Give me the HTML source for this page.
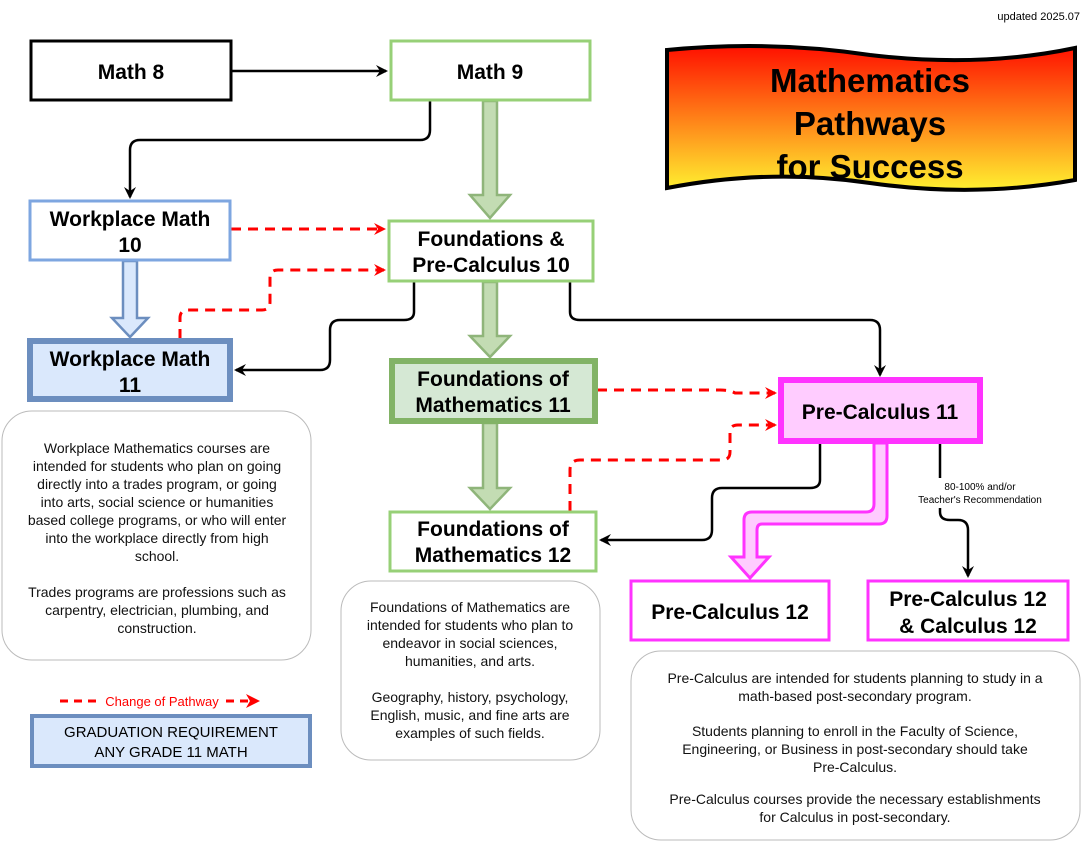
<!DOCTYPE html>
<html><head><meta charset="utf-8"><style>
body{margin:0;background:#fff;}
svg{display:block;font-family:"Comic Sans MS","Liberation Sans",sans-serif;}
.t{font-weight:bold;font-size:21px;fill:#000;text-anchor:middle;}
.s{font-size:14px;fill:#111;text-anchor:middle;}
</style></head><body>
<svg width="1091" height="841" viewBox="0 0 1091 841" xmlns="http://www.w3.org/2000/svg">
<defs>
<linearGradient id="g" x1="0" y1="0" x2="0" y2="1"><stop offset="0" stop-color="#ff1000"/><stop offset="1" stop-color="#fff030"/></linearGradient>
<marker id="ab" markerWidth="12" markerHeight="12" refX="10" refY="6" orient="auto" markerUnits="userSpaceOnUse"><path d="M0,0 L12,6 L0,12 L4,6 Z" fill="#000"/></marker>
<marker id="ar" markerWidth="12" markerHeight="12" refX="10" refY="6" orient="auto" markerUnits="userSpaceOnUse"><path d="M0,0 L12,6 L0,12 L4,6 Z" fill="#f00"/></marker>
</defs>
<text x="1080" y="20" font-size="11" text-anchor="end" font-family="Liberation Sans">updated 2025.07</text>

<!-- banner -->
<path d="M667,50 Q770,40 870,55 Q980,68 1075,48 L1075,180 Q975,198 870,183 Q770,168 667,188 Z" fill="url(#g)" stroke="#000" stroke-width="4"/>
<text class="t" x="870" y="92" style="font-size:33px">Mathematics</text>
<text class="t" x="870" y="135" style="font-size:33px">Pathways</text>
<text class="t" x="870" y="178" style="font-size:33px">for Success</text>

<!-- connectors -->
<path d="M232,71 L386,71" stroke="#000" stroke-width="2.5" fill="none" marker-end="url(#ab)"/>
<path d="M430,101 L430,130 Q430,140 420,140 L140,140 Q130,140 130,150 L130,197" stroke="#000" stroke-width="2.5" fill="none" marker-end="url(#ab)"/>
<path d="M231,229 L384,229" stroke="#f00" stroke-width="3" stroke-dasharray="10,7" fill="none" marker-end="url(#ar)"/>
<path d="M180,339 L180,318 Q180,310 188,310 L262,310 Q270,310 270,302 L270,278 Q270,270 278,270 L384,270" stroke="#f00" stroke-width="3" stroke-dasharray="10,7" fill="none" marker-end="url(#ar)"/>
<path d="M414,282 L414,312 Q414,320 404,320 L340,320 Q330,320 330,330 L330,360 Q330,370 320,370 L236,370" stroke="#000" stroke-width="2.5" fill="none" marker-end="url(#ab)"/>
<path d="M570,282 L570,312 Q570,320 580,320 L870,320 Q880,320 880,330 L880,375" stroke="#000" stroke-width="2.5" fill="none" marker-end="url(#ab)"/>
<path d="M597,390 L720,390 Q730,390 735,393 L775,393" stroke="#f00" stroke-width="3" stroke-dasharray="10,7" fill="none" marker-end="url(#ar)"/>
<path d="M570,511 L570,470 Q570,460 580,460 L722,460 Q730,460 730,452 L730,432 Q730,425 738,425 L775,425" stroke="#f00" stroke-width="3" stroke-dasharray="10,7" fill="none" marker-end="url(#ar)"/>
<path d="M820,443 L820,480 Q820,488 810,488 L722,488 Q712,488 712,498 L712,530 Q712,540 702,540 L601,540" stroke="#000" stroke-width="2.5" fill="none" marker-end="url(#ab)"/>
<path d="M940,443 L940,478 M940,508 L940,512 Q940,520 950,520 L958,520 Q968,520 968,530 L968,576" stroke="#000" stroke-width="2.5" fill="none" marker-end="url(#ab)"/>
<text x="980" y="490" font-size="10" text-anchor="middle">80-100% and/or</text>
<text x="980" y="503" font-size="10" text-anchor="middle">Teacher's Recommendation</text>

<!-- block arrows -->
<path d="M483,101 L497,101 L497,195 L510,195 L490,218 L470,195 L483,195 Z" fill="#c3dcb3" stroke="#8fb57a" stroke-width="2.5"/>
<path d="M483,282 L497,282 L497,336 L510,336 L490,357 L470,336 L483,336 Z" fill="#c3dcb3" stroke="#8fb57a" stroke-width="2.5"/>
<path d="M483,423 L497,423 L497,488 L510,488 L490,509 L470,488 L483,488 Z" fill="#c3dcb3" stroke="#8fb57a" stroke-width="2.5"/>
<path d="M123,261 L137,261 L137,318 L148,318 L130,337 L112,318 L123,318 Z" fill="#dae8fc" stroke="#6c8ebf" stroke-width="2.5"/>
<path d="M874,443 L887,443 L887,516 Q887,524 879,524 L762,524 Q757,524 757,530 L757,557 L769,557 L750,578 L731,557 L744,557 L744,520 Q744,512 752,512 L866,512 Q874,512 874,504 Z" fill="#ffccff" stroke="#ff33ff" stroke-width="3"/>

<!-- nodes -->
<rect x="31" y="41" width="200" height="59" fill="#fff" stroke="#000" stroke-width="3"/>
<text class="t" x="131" y="79">Math 8</text>
<rect x="391" y="41" width="199" height="59" fill="#fff" stroke="#97d077" stroke-width="3"/>
<text class="t" x="490" y="79">Math 9</text>
<rect x="30" y="201" width="200" height="59" fill="#fff" stroke="#7ea6e0" stroke-width="3"/>
<text class="t" x="130" y="226">Workplace Math</text>
<text class="t" x="130" y="252">10</text>
<rect x="389" y="221" width="204" height="60" fill="#fff" stroke="#97d077" stroke-width="3"/>
<text class="t" x="491" y="246">Foundations &amp;</text>
<text class="t" x="491" y="272">Pre-Calculus 10</text>
<rect x="30" y="341" width="200" height="58" fill="#dae8fc" stroke="#6c8ebf" stroke-width="6"/>
<text class="t" x="130" y="366">Workplace Math</text>
<text class="t" x="130" y="392">11</text>
<rect x="392" y="361" width="203" height="60" fill="#d5e8d4" stroke="#82b366" stroke-width="6"/>
<text class="t" x="493" y="386">Foundations of</text>
<text class="t" x="493" y="412">Mathematics 11</text>
<rect x="781" y="380" width="199" height="61" fill="#ffccff" stroke="#ff33ff" stroke-width="6"/>
<text class="t" x="880" y="419">Pre-Calculus 11</text>
<rect x="390" y="512" width="206" height="59" fill="#fff" stroke="#97d077" stroke-width="3"/>
<text class="t" x="493" y="536">Foundations of</text>
<text class="t" x="493" y="562">Mathematics 12</text>
<rect x="631" y="581" width="198" height="59" fill="#fff" stroke="#ff33ff" stroke-width="3"/>
<text class="t" x="730" y="619">Pre-Calculus 12</text>
<rect x="868" y="581" width="200" height="59" fill="#fff" stroke="#ff33ff" stroke-width="3"/>
<text class="t" x="968" y="606">Pre-Calculus 12</text>
<text class="t" x="968" y="633">&amp; Calculus 12</text>

<!-- text boxes -->
<rect x="2" y="411" width="309" height="249" rx="30" fill="#fff" stroke="#bbb" stroke-width="1"/>
<g class="s">
<text x="157" y="453">Workplace Mathematics courses are</text>
<text x="157" y="471">intended for students who plan on going</text>
<text x="157" y="489">directly into a trades program, or going</text>
<text x="157" y="507">into arts, social science or humanities</text>
<text x="157" y="525">based college programs, or who will enter</text>
<text x="157" y="543">into the workplace directly from high</text>
<text x="157" y="561">school.</text>
<text x="157" y="597">Trades programs are professions such as</text>
<text x="157" y="615">carpentry, electrician, plumbing, and</text>
<text x="157" y="633">construction.</text>
</g>
<rect x="341" y="581" width="259" height="179" rx="30" fill="#fff" stroke="#bbb" stroke-width="1"/>
<g class="s">
<text x="470" y="612">Foundations of Mathematics are</text>
<text x="470" y="630">intended for students who plan to</text>
<text x="470" y="648">endeavor in social sciences,</text>
<text x="470" y="666">humanities, and arts.</text>
<text x="470" y="702">Geography, history, psychology,</text>
<text x="470" y="720">English, music, and fine arts are</text>
<text x="470" y="738">examples of such fields.</text>
</g>
<rect x="631" y="651" width="449" height="189" rx="30" fill="#fff" stroke="#bbb" stroke-width="1"/>
<g class="s">
<text x="855" y="683">Pre-Calculus are intended for students planning to study in a</text>
<text x="855" y="701">math-based post-secondary program.</text>
<text x="855" y="736">Students planning to enroll in the Faculty of Science,</text>
<text x="855" y="754">Engineering, or Business in post-secondary should take</text>
<text x="855" y="772">Pre-Calculus.</text>
<text x="855" y="804">Pre-Calculus courses provide the necessary establishments</text>
<text x="855" y="822">for Calculus in post-secondary.</text>
</g>

<!-- legend -->
<path d="M60,701 L98,701 M226,701 L256,701" stroke="#f00" stroke-width="3" stroke-dasharray="8,6" fill="none"/>
<path d="M246,694 L260,701 L246,708 L250,701 Z" fill="#f00"/>
<text x="162" y="706" font-size="13" fill="#f00" text-anchor="middle">Change of Pathway</text>
<rect x="32" y="716" width="278" height="50" fill="#dae8fc" stroke="#6c8ebf" stroke-width="4"/>
<text x="171" y="737" font-size="15" text-anchor="middle">GRADUATION REQUIREMENT</text>
<text x="171" y="757" font-size="15" text-anchor="middle">ANY GRADE 11 MATH</text>
</svg>
</body></html>
